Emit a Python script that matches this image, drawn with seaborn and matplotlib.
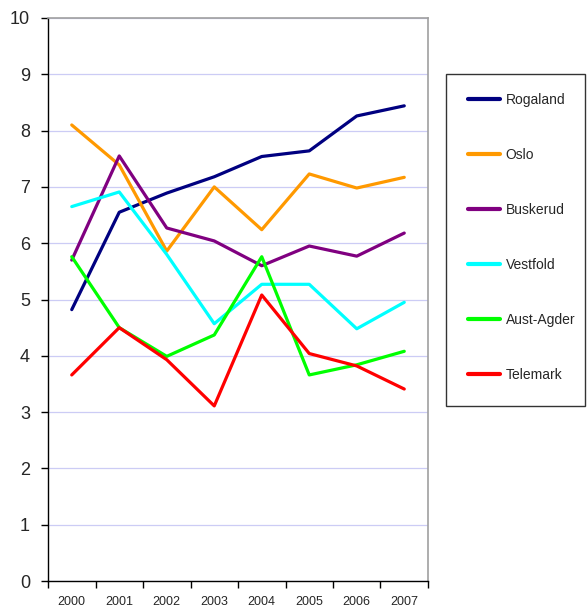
import matplotlib
matplotlib.use("Agg")
import matplotlib.pyplot as plt
from matplotlib.patches import Rectangle
import seaborn as sns
import pandas as pd

years = ["2000", "2001", "2002", "2003", "2004", "2005", "2006", "2007"]
rogaland = [4.82, 6.55, 6.89, 7.18, 7.54, 7.64, 8.26, 8.44]
oslo = [8.10, 7.39, 5.86, 7.00, 6.24, 7.23, 6.98, 7.17]
buskerud = [5.70, 7.55, 6.27, 6.04, 5.60, 5.95, 5.77, 6.18]
vestfold = [6.65, 6.91, 5.80, 4.57, 5.27, 5.27, 4.48, 4.95]
aust_agder = [5.76, 4.50, 3.99, 4.37, 5.76, 3.66, 3.84, 4.08]
telemark = [3.66, 4.50, 3.93, 3.11, 5.08, 4.04, 3.82, 3.41]

series = {
    "Rogaland": rogaland,
    "Oslo": oslo,
    "Buskerud": buskerud,
    "Vestfold": vestfold,
    "Aust-Agder": aust_agder,
    "Telemark": telemark,
}
colors = ["#000080", "#FF9900", "#800080", "#00FFFF", "#00FF00", "#FF0000"]

rows = []
for name, vals in series.items():
    for i, (yr, v) in enumerate(zip(years, vals)):
        rows.append({"pos": i, "year": yr, "value": v, "region": name})
df = pd.DataFrame(rows)

sns.set_style("white")
plt.rcParams["font.family"] = ["Liberation Sans", "DejaVu Sans"]

W, H = 587, 609
fig = plt.figure(figsize=(W / 100, H / 100), dpi=100)
ax = fig.add_axes([48 / W, (H - 581) / H, 380 / W, 563 / H])

sns.lineplot(data=df, x="pos", y="value", hue="region", palette=colors,
             linewidth=2.3, ax=ax, legend=True, sort=False)

ax.set_xlim(-0.5, 7.5)
ax.set_ylim(0, 10)
ax.set_yticks(range(0, 11))
ax.set_yticklabels([str(i) for i in range(0, 11)], fontsize=13)
ax.yaxis.grid(True, color="#CCCCF5", linewidth=0.9)
ax.set_axisbelow(True)

ax.set_xticks([i - 0.5 for i in range(9)])
ax.set_xticklabels([])
ax.set_xticks(range(8), minor=True)
ax.set_xticklabels(years, minor=True, fontsize=9)
ax.tick_params(axis="x", which="major", direction="out", length=5, width=1, color="black", bottom=True)
ax.tick_params(axis="x", which="minor", length=0, pad=11)
ax.tick_params(axis="y", direction="out", length=5, width=1, color="black", left=True, pad=8)
ax.set_xlabel("")
ax.set_ylabel("")

for s in ["left", "bottom"]:
    ax.spines[s].set_color("black")
    ax.spines[s].set_linewidth(1)
for s in ["top", "right"]:
    ax.spines[s].set_color("#A0A0A0")
    ax.spines[s].set_linewidth(1.2)

handles, labels = ax.get_legend_handles_labels()
ax.get_legend().remove()
for h in handles:
    h.set_linewidth(3)

fig.patches.append(Rectangle((446 / W, 1 - 406 / H), 139 / W, 332 / H,
                             transform=fig.transFigure, fill=False,
                             edgecolor="#333333", linewidth=1))
fig.legend(handles, labels, loc="upper left",
           bbox_to_anchor=(468 / W, 1 - 93 / H), frameon=False,
           fontsize=10, labelspacing=2.95, handlelength=2.3,
           handletextpad=0.4, borderpad=0, borderaxespad=0)

fig.savefig("out.png", dpi=100)
